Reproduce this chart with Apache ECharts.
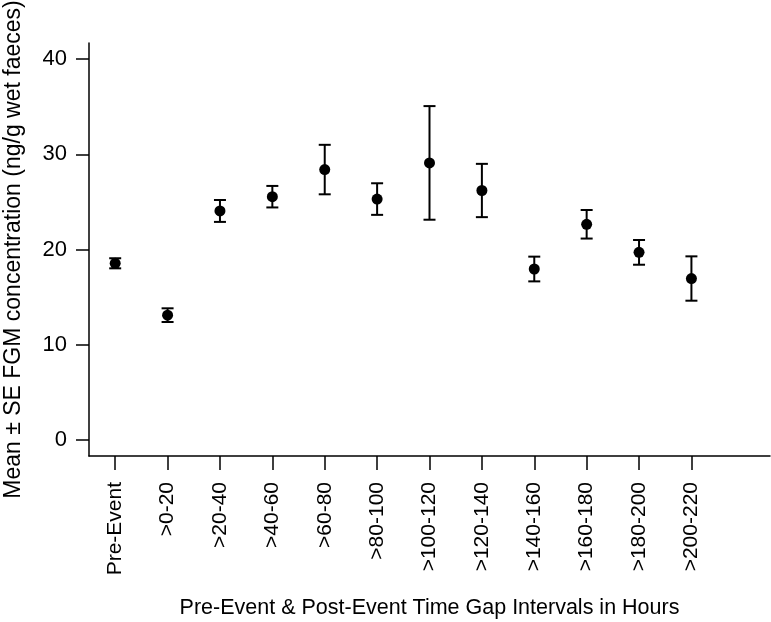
<!DOCTYPE html>
<html>
<head>
<meta charset="utf-8">
<script src="https://cdn.jsdelivr.net/npm/echarts@6/dist/echarts.min.js"></script>
<style>
  html, body { margin: 0; padding: 0; background: #fff; }
  #chart { width: 771px; height: 622px; }
</style>
</head>
<body>
<div id="chart"></div>
<script>
var categories = ['Pre-Event', '>0-20', '>20-40', '>40-60', '>60-80', '>80-100',
    '>100-120', '>120-140', '>140-160', '>160-180', '>180-200', '>200-220'];
var means = [18.55, 13.1, 24.05, 25.55, 28.4, 25.3, 29.1, 26.2, 17.95, 22.65, 19.7, 16.95];
var seValues = [0.53, 0.72, 1.15, 1.13, 2.6, 1.66, 5.97, 2.8, 1.3, 1.5, 1.3, 2.33];
var yTicks = [0, 10, 20, 30, 40];

var font = '"Liberation Sans", Arial, sans-serif';
var positions = categories.map(function (c, i) { return i; });
var points = means.map(function (m, i) { return [i, m]; });
var bars = means.map(function (m, i) { return [i, m, seValues[i]]; });

var chart = echarts.init(document.getElementById('chart'));
chart.setOption({
    backgroundColor: '#fff',
    animation: false,
    grid: { left: 89, right: 1, top: 43, bottom: 166, containLabel: false, outerBoundsMode: 'none' },
    xAxis: {
        type: 'value',
        min: -0.5,
        max: 12.5,
        splitLine: { show: false },
        axisLine: { onZero: false, lineStyle: { color: '#000', width: 1.5 } },
        axisTick: { customValues: positions, length: 14, lineStyle: { color: '#000', width: 1.5 } },
        axisLabel: {
            customValues: positions,
            rotate: 90,
            margin: 26,
            color: '#000',
            fontFamily: font,
            fontSize: 21,
            formatter: function (v) { return categories[Math.round(v)]; }
        },
        name: 'Pre-Event & Post-Event Time Gap Intervals in Hours',
        nameLocation: 'middle',
        nameGap: 141,
        nameTextStyle: { color: '#000', fontFamily: font, fontSize: 21.5 }
    },
    yAxis: {
        type: 'value',
        min: -1.7,
        max: 41.7,
        splitLine: { show: false },
        axisLine: { show: true, onZero: false, lineStyle: { color: '#000', width: 1.5 } },
        axisTick: { show: true, customValues: yTicks, length: 13, lineStyle: { color: '#000', width: 1.5 } },
        axisLabel: {
            customValues: yTicks,
            margin: 22,
            color: '#000',
            fontFamily: font,
            fontSize: 22
        },
        name: 'Mean \u00b1 SE FGM concentration (ng/g wet faeces)',
        nameLocation: 'middle',
        nameRotate: 90,
        nameGap: 64,
        nameTextStyle: { color: '#000', fontFamily: font, fontSize: 23 }
    },
    series: [
        {
            type: 'custom',
            data: bars,
            renderItem: function (params, api) {
                var x = api.value(0), m = api.value(1), s = api.value(2);
                var top = api.coord([x, m + s]);
                var bot = api.coord([x, m - s]);
                var half = 6;
                var style = { stroke: '#000', lineWidth: 2 };
                return {
                    type: 'group',
                    children: [
                        { type: 'line', shape: { x1: top[0], y1: top[1], x2: bot[0], y2: bot[1] }, style: style },
                        { type: 'line', shape: { x1: top[0] - half, y1: top[1], x2: top[0] + half, y2: top[1] }, style: style },
                        { type: 'line', shape: { x1: bot[0] - half, y1: bot[1], x2: bot[0] + half, y2: bot[1] }, style: style }
                    ]
                };
            },
            z: 2
        },
        {
            type: 'scatter',
            data: points,
            symbol: 'circle',
            symbolSize: 11,
            itemStyle: { color: '#000', opacity: 1 },
            z: 3
        }
    ]
});
</script>
</body>
</html>
